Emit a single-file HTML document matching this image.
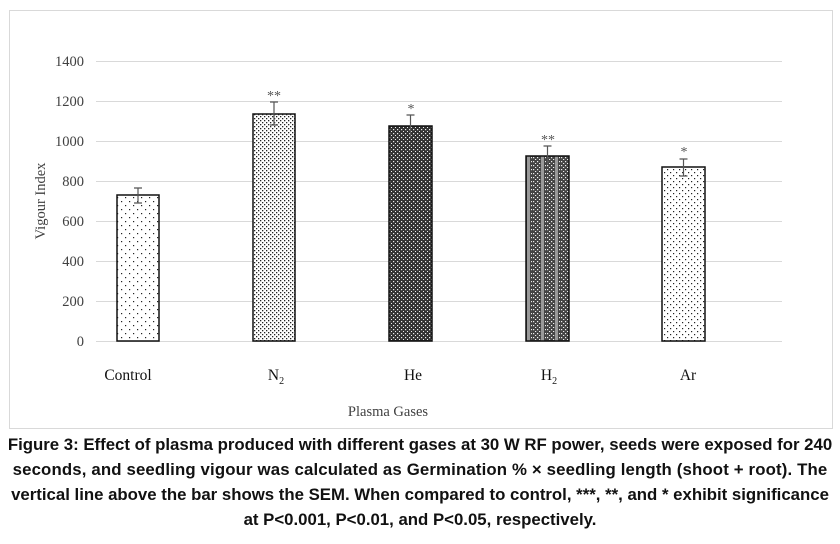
<!DOCTYPE html>
<html><head><meta charset="utf-8"><style>
body{margin:0;background:#fff;width:840px;height:544px;overflow:hidden;position:relative}
.cap{position:absolute;left:0;width:840px;text-align:center;font-family:"Liberation Sans",sans-serif;font-weight:bold;font-size:16.8px;color:#111;white-space:nowrap}
</style></head><body>
<svg width="840" height="544" style="position:absolute;left:0;top:0" font-family="Liberation Serif,serif">
<defs>
<pattern id="p1" width="8" height="8" patternUnits="userSpaceOnUse"><rect width="8" height="8" fill="#fff"/><rect x="1" y="1" width="1.2" height="1.2" fill="#222"/><rect x="5" y="5" width="1.2" height="1.2" fill="#222"/></pattern>
<pattern id="p2" width="4" height="4" patternUnits="userSpaceOnUse"><rect width="4" height="4" fill="#fff"/><rect x="0" y="0" width="1.3" height="1.3" fill="#222"/><rect x="2" y="2" width="1.3" height="1.3" fill="#222"/></pattern>
<pattern id="p3" width="4" height="4" patternUnits="userSpaceOnUse"><rect width="4" height="4" fill="#333"/><rect x="1" y="1" width="1.2" height="1.2" fill="#eee"/><rect x="3" y="3" width="1.2" height="1.2" fill="#eee"/></pattern>
<pattern id="p4" width="14" height="4" patternUnits="userSpaceOnUse"><rect width="14" height="4" fill="#444"/><rect x="1" y="1" width="1.2" height="1.2" fill="#eee"/><rect x="3" y="3" width="1.2" height="1.2" fill="#eee"/><rect x="9" y="0" width="3" height="4" fill="#999"/><rect x="5" y="1" width="1.2" height="1.2" fill="#eee"/><rect x="7" y="3" width="1.2" height="1.2" fill="#eee"/><rect x="13" y="1" width="1" height="1.2" fill="#eee"/></pattern>
<pattern id="p5" width="6" height="6" patternUnits="userSpaceOnUse"><rect width="6" height="6" fill="#fff"/><rect x="1" y="1" width="1.2" height="1.2" fill="#222"/><rect x="4" y="4" width="1.2" height="1.2" fill="#222"/></pattern>
</defs>
<rect x="9.5" y="10.5" width="823" height="418" fill="#fff" stroke="#d9d9d9"/>
<g stroke="#d9d9d9" stroke-width="1">
<line x1="96" x2="782" y1="61.5" y2="61.5"/><line x1="96" x2="782" y1="101.5" y2="101.5"/><line x1="96" x2="782" y1="141.5" y2="141.5"/><line x1="96" x2="782" y1="181.5" y2="181.5"/><line x1="96" x2="782" y1="221.5" y2="221.5"/><line x1="96" x2="782" y1="261.5" y2="261.5"/><line x1="96" x2="782" y1="301.5" y2="301.5"/><line x1="96" x2="782" y1="341.5" y2="341.5"/>
</g>
<g font-size="14.5" fill="#404040" text-anchor="end">
<text x="84" y="66">1400</text><text x="84" y="106">1200</text><text x="84" y="146">1000</text><text x="84" y="186">800</text><text x="84" y="226">600</text><text x="84" y="266">400</text><text x="84" y="306">200</text><text x="84" y="346">0</text>
</g>
<text transform="translate(45,201) rotate(-90)" font-size="14.5" fill="#404040" text-anchor="middle">Vigour Index</text>
<g stroke="#111" stroke-width="1.5">
<rect x="117" y="195" width="42" height="146" fill="url(#p1)"/>
<rect x="253" y="114" width="42" height="227" fill="url(#p2)"/>
<rect x="389" y="126" width="43" height="215" fill="url(#p3)"/>
<rect x="526" y="156" width="43" height="185" fill="url(#p4)"/>
<rect x="662" y="167" width="43" height="174" fill="url(#p5)"/>
</g>
<g stroke="#555" stroke-width="1.2">
<path d="M138 188V203M134 188H142M134 203H142"/>
<path d="M274 102V125M270 102H278M270 125H278"/>
<path d="M410.5 115V137M406.5 115H414.5"/>
<path d="M547.5 146V165M543.5 146H551.5"/>
<path d="M683.5 159V176M679.5 159H687.5M679.5 176H687.5"/>
</g>
<g font-size="14" fill="#555" text-anchor="middle">
<text x="274" y="100">**</text><text x="411" y="113">*</text><text x="548" y="144">**</text><text x="684" y="156">*</text>
</g>
<g font-size="15.5" fill="#111" text-anchor="middle">
<text x="128" y="380">Control</text>
<text x="276" y="380">N<tspan font-size="10" dy="4">2</tspan></text>
<text x="413" y="380">He</text>
<text x="549" y="380">H<tspan font-size="10" dy="4">2</tspan></text>
<text x="688" y="380">Ar</text>
<text x="388" y="416" font-size="14.5" fill="#404040">Plasma Gases</text>
</g>
</svg>
<div class="cap" style="top:435px">Figure 3: Effect of plasma produced with different gases at 30 W RF power, seeds were exposed for 240</div>
<div class="cap" style="top:460px;letter-spacing:0.15px">seconds, and seedling vigour was calculated as Germination % × seedling length (shoot + root). The</div>
<div class="cap" style="top:485px">vertical line above the bar shows the SEM. When compared to control, ***, **, and * exhibit significance</div>
<div class="cap" style="top:510px">at P&lt;0.001, P&lt;0.01, and P&lt;0.05, respectively.</div>
</body></html>
